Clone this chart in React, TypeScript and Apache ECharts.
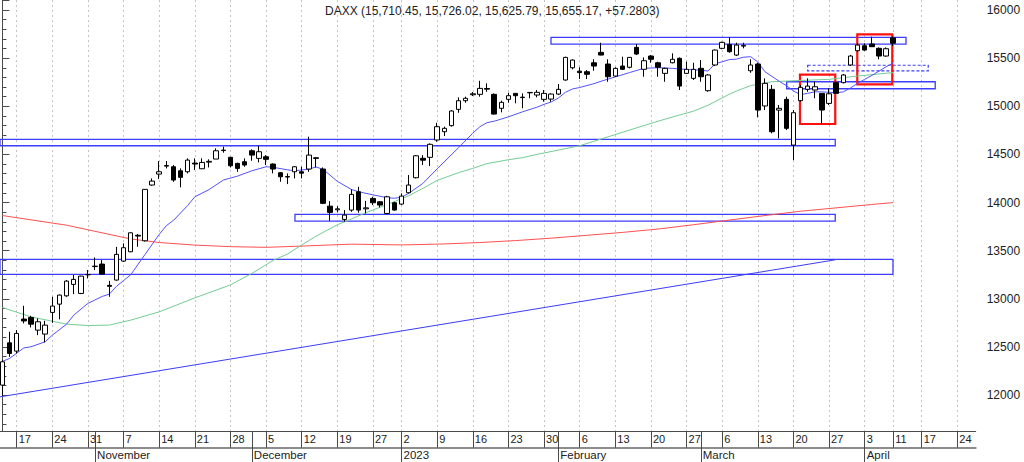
import React, { useEffect, useRef } from 'react';
import * as echarts from 'echarts';

// ---------- data ----------
const tradingDays: string[] = [
  '2022-10-13', '2022-10-14',
  '2022-10-17', '2022-10-18', '2022-10-19', '2022-10-20', '2022-10-21',
  '2022-10-24', '2022-10-25', '2022-10-26', '2022-10-27', '2022-10-28',
  '2022-10-31', '2022-11-01', '2022-11-02', '2022-11-03', '2022-11-04',
  '2022-11-07', '2022-11-08', '2022-11-09', '2022-11-10', '2022-11-11',
  '2022-11-14', '2022-11-15', '2022-11-16', '2022-11-17', '2022-11-18',
  '2022-11-21', '2022-11-22', '2022-11-23', '2022-11-24', '2022-11-25',
  '2022-11-28', '2022-11-29', '2022-11-30', '2022-12-01', '2022-12-02',
  '2022-12-05', '2022-12-06', '2022-12-07', '2022-12-08', '2022-12-09',
  '2022-12-12', '2022-12-13', '2022-12-14', '2022-12-15', '2022-12-16',
  '2022-12-19', '2022-12-20', '2022-12-21', '2022-12-22', '2022-12-23',
  '2022-12-27', '2022-12-28', '2022-12-29', '2022-12-30',
  '2023-01-02', '2023-01-03', '2023-01-04', '2023-01-05', '2023-01-06',
  '2023-01-09', '2023-01-10', '2023-01-11', '2023-01-12', '2023-01-13',
  '2023-01-16', '2023-01-17', '2023-01-18', '2023-01-19', '2023-01-20',
  '2023-01-23', '2023-01-24', '2023-01-25', '2023-01-26', '2023-01-27',
  '2023-01-30', '2023-01-31', '2023-02-01', '2023-02-02', '2023-02-03',
  '2023-02-06', '2023-02-07', '2023-02-08', '2023-02-09', '2023-02-10',
  '2023-02-13', '2023-02-14', '2023-02-15', '2023-02-16', '2023-02-17',
  '2023-02-20', '2023-02-21', '2023-02-22', '2023-02-23', '2023-02-24',
  '2023-02-27', '2023-02-28', '2023-03-01', '2023-03-02', '2023-03-03',
  '2023-03-06', '2023-03-07', '2023-03-08', '2023-03-09', '2023-03-10',
  '2023-03-13', '2023-03-14', '2023-03-15', '2023-03-16', '2023-03-17',
  '2023-03-20', '2023-03-21', '2023-03-22', '2023-03-23', '2023-03-24',
  '2023-03-27', '2023-03-28', '2023-03-29', '2023-03-30', '2023-03-31',
  '2023-04-03', '2023-04-04', '2023-04-05', '2023-04-06',
  '2023-04-11',
];

const futureDays: string[] = [
  '2023-04-12', '2023-04-13', '2023-04-14',
  '2023-04-17', '2023-04-18', '2023-04-19', '2023-04-20', '2023-04-21',
  '2023-04-24', '2023-04-25', '2023-04-26',
];

const opens: number[] = [
  12104, 12543,
  12457, 12790, 12807, 12675, 12634,
  12859, 12945, 13031, 13150, 13056,
  13250, 13335, 13361, 13140, 13195,
  13392, 13489, 13660, 13603, 14182,
  14296, 14378, 14372, 14330, 14320,
  14410, 14351, 14420, 14452, 14540,
  14470, 14407, 14424, 14538, 14459,
  14476, 14400, 14310, 14265, 14320,
  14320, 14348, 14465, 14348, 13963,
  13925, 13825, 13922, 14112, 13935,
  14043, 14008, 13887, 13998,
  13984, 14102, 14258, 14460, 14470,
  14650, 14736, 14799, 14968, 15058,
  15120, 15124, 15185, 15124, 14979,
  15072, 15134, 15095, 15140, 15117,
  15072, 15075, 15127, 15273, 15400,
  15365, 15359, 15452, 15560, 15439,
  15314, 15418, 15405, 15612, 15384,
  15522, 15452, 15342, 15452, 15498,
  15342, 15290, 15394, 15162, 15429,
  15602, 15643, 15532, 15625, 15369,
  15439, 15003, 15176, 14960, 15072,
  14597, 15058, 15176, 15169, 15134,
  15030, 15245, 15245, 15429, 15577,
  15629, 15647, 15602, 15522,
  15710.45,
];

const highs: number[] = [
  12363, 12658,
  12675, 12928, 12824, 12797, 12772,
  13021, 13045, 13195, 13247, 13240,
  13300, 13430, 13402, 13187, 13540,
  13576, 13690, 13673, 14140, 14251,
  14431, 14431, 14390, 14355, 14459,
  14459, 14459, 14449, 14563, 14580,
  14473, 14414, 14459, 14553, 14590,
  14493, 14407, 14315, 14303, 14379,
  14372, 14684, 14470, 14365, 14015,
  13963, 13922, 14137, 14164, 14018,
  14060, 14015, 14070, 14008,
  14095, 14286, 14493, 14493, 14615,
  14829, 14788, 14961, 15093, 15100,
  15148, 15265, 15238, 15134, 15058,
  15141, 15136, 15134, 15146, 15169,
  15169, 15134, 15231, 15515, 15488,
  15405, 15377, 15488, 15660, 15488,
  15405, 15515, 15510, 15647, 15508,
  15532, 15463, 15400, 15550, 15508,
  15463, 15452, 15480, 15335, 15590,
  15671, 15716, 15660, 15660, 15488,
  15452, 15290, 15221, 15013, 15100,
  14961, 15221, 15290, 15255, 15134,
  15186, 15255, 15335, 15532, 15654,
  15654, 15723, 15612, 15612,
  15726.02,
];

const lows: number[] = [
  11990, 12398,
  12433, 12745, 12703, 12623, 12547,
  12751, 12787, 13021, 13049, 13050,
  13212, 13299, 13250, 13021, 13190,
  13382, 13485, 13541, 13595, 14174,
  14244, 14355, 14216, 14158, 14303,
  14338, 14348, 14365, 14452, 14518,
  14365, 14320, 14372, 14434, 14417,
  14390, 14303, 14216, 14192, 14251,
  14251, 14320, 14365, 13984, 13811,
  13898, 13800, 13904, 13894, 13887,
  13974, 13950, 13880, 13915,
  13974, 14095, 14250, 14390, 14379,
  14632, 14691, 14788, 14933, 15037,
  15107, 15100, 15151, 14915, 14937,
  15037, 15031, 14979, 15083, 15093,
  15048, 15048, 15117, 15266, 15384,
  15283, 15283, 15369, 15530, 15255,
  15307, 15377, 15394, 15532, 15307,
  15452, 15307, 15255, 15446, 15169,
  15335, 15273, 15255, 15151, 15418,
  15592, 15556, 15522, 15602, 15348,
  14885, 14961, 14719, 14667, 14753,
  14441, 15048, 15151, 15083, 14816,
  15013, 15127, 15238, 15418, 15567,
  15577, 15619, 15488, 15515,
  15625.79,
];

const closes: number[] = [
  12346, 12433,
  12641, 12770, 12737, 12762, 12727,
  12925, 13039, 13184, 13202, 13236,
  13253, 13340, 13257, 13130, 13462,
  13531, 13686, 13652, 14137, 14223,
  14320, 14385, 14234, 14262, 14441,
  14400, 14417, 14428, 14538, 14545,
  14382, 14355, 14390, 14493, 14528,
  14449, 14348, 14268, 14270, 14372,
  14305, 14493, 14459, 13992, 13898,
  13935, 13870, 14085, 13922, 13945,
  13998, 13974, 14060, 13922,
  14067, 14182, 14486, 14440, 14605,
  14788, 14771, 14951, 15058, 15083,
  15130, 15186, 15178, 14919, 15041,
  15110, 15110, 15090, 15144, 15145,
  15134, 15127, 15176, 15508, 15480,
  15350, 15332, 15418, 15532, 15307,
  15394, 15384, 15508, 15543, 15473,
  15488, 15405, 15394, 15488, 15210,
  15384, 15384, 15307, 15325, 15584,
  15664, 15567, 15636, 15633, 15429,
  14961, 15238, 14736, 14979, 14771,
  14933, 15197, 15210, 15203, 14961,
  15130, 15134, 15325, 15522, 15636,
  15584, 15619, 15522, 15597.89,
  15655.17,
];

// moving averages: [date, value]
const maFast: [string, number][] = [
  ['2022-10-13', 12350], ['2022-10-14', 12381], ['2022-10-18', 12490], ['2022-10-19', 12502],
  ['2022-10-21', 12554], ['2022-10-24', 12623], ['2022-10-26', 12737], ['2022-10-27', 12830],
  ['2022-10-31', 12953], ['2022-11-02', 13025], ['2022-11-03', 13049], ['2022-11-04', 13130],
  ['2022-11-07', 13190], ['2022-11-08', 13250], ['2022-11-10', 13460], ['2022-11-14', 13670],
  ['2022-11-15', 13760], ['2022-11-16', 13815], ['2022-11-18', 13970], ['2022-11-21', 14060],
  ['2022-11-23', 14135], ['2022-11-25', 14234], ['2022-11-29', 14275], ['2022-12-01', 14330],
  ['2022-12-05', 14372], ['2022-12-06', 14366], ['2022-12-08', 14340], ['2022-12-09', 14330],
  ['2022-12-13', 14347], ['2022-12-14', 14370], ['2022-12-15', 14345], ['2022-12-19', 14220],
  ['2022-12-21', 14135], ['2022-12-22', 14112], ['2022-12-27', 14080], ['2022-12-29', 14050],
  ['2022-12-30', 14045], ['2023-01-02', 14055], ['2023-01-03', 14095], ['2023-01-05', 14199],
  ['2023-01-09', 14350], ['2023-01-12', 14570], ['2023-01-16', 14720], ['2023-01-17', 14788],
  ['2023-01-18', 14830], ['2023-01-19', 14845], ['2023-01-23', 14890], ['2023-01-25', 14943],
  ['2023-01-27', 14990], ['2023-01-30', 15020], ['2023-01-31', 15045], ['2023-02-01', 15085],
  ['2023-02-02', 15145], ['2023-02-03', 15180], ['2023-02-06', 15195], ['2023-02-08', 15235],
  ['2023-02-09', 15260], ['2023-02-13', 15305], ['2023-02-15', 15350], ['2023-02-17', 15394],
  ['2023-02-21', 15401], ['2023-02-23', 15394], ['2023-02-27', 15383], ['2023-03-01', 15375],
  ['2023-03-02', 15366], ['2023-03-03', 15440], ['2023-03-07', 15485], ['2023-03-08', 15490],
  ['2023-03-09', 15510], ['2023-03-10', 15515], ['2023-03-13', 15460], ['2023-03-14', 15360],
  ['2023-03-15', 15310], ['2023-03-16', 15260], ['2023-03-17', 15215], ['2023-03-20', 15160],
  ['2023-03-21', 15120], ['2023-03-22', 15135], ['2023-03-23', 15150], ['2023-03-24', 15150],
  ['2023-03-27', 15145], ['2023-03-28', 15140], ['2023-03-29', 15150], ['2023-03-30', 15190],
  ['2023-03-31', 15238], ['2023-04-03', 15280], ['2023-04-04', 15320], ['2023-04-05', 15365],
  ['2023-04-06', 15410], ['2023-04-11', 15450],
];

const maMid: [string, number][] = [
  ['2022-10-13', 12910], ['2022-10-19', 12813], ['2022-10-26', 12737], ['2022-10-31', 12723],
  ['2022-11-03', 12727], ['2022-11-08', 12779], ['2022-11-14', 12865], ['2022-11-21', 13010],
  ['2022-11-28', 13145], ['2022-12-01', 13264], ['2022-12-06', 13400], ['2022-12-08', 13465],
  ['2022-12-12', 13560], ['2022-12-14', 13650], ['2022-12-19', 13770], ['2022-12-21', 13830],
  ['2022-12-23', 13895], ['2022-12-29', 13980], ['2023-01-03', 14070], ['2023-01-05', 14147],
  ['2023-01-09', 14230], ['2023-01-12', 14310], ['2023-01-16', 14355], ['2023-01-18', 14405],
  ['2023-01-23', 14445], ['2023-01-25', 14466], ['2023-01-27', 14500], ['2023-02-01', 14545],
  ['2023-02-06', 14590], ['2023-02-09', 14660], ['2023-02-15', 14753], ['2023-02-21', 14845],
  ['2023-02-24', 14909], ['2023-02-28', 14950], ['2023-03-02', 15010], ['2023-03-07', 15125],
  ['2023-03-08', 15158], ['2023-03-10', 15215], ['2023-03-15', 15255], ['2023-03-20', 15265],
  ['2023-03-27', 15280], ['2023-03-31', 15314], ['2023-04-11', 15350],
];

const maSlow: [string, number][] = [
  ['2022-10-13', 13865], ['2022-10-26', 13765], ['2022-11-08', 13622], ['2022-11-14', 13585],
  ['2022-11-21', 13558], ['2022-11-28', 13542], ['2022-12-05', 13535], ['2022-12-12', 13548],
  ['2022-12-21', 13568], ['2023-01-02', 13560], ['2023-01-10', 13570], ['2023-01-17', 13585],
  ['2023-01-24', 13605], ['2023-01-31', 13630], ['2023-02-07', 13660], ['2023-02-14', 13690],
  ['2023-02-21', 13725], ['2023-02-28', 13770], ['2023-03-07', 13818], ['2023-03-14', 13865],
  ['2023-03-21', 13910], ['2023-03-28', 13945], ['2023-04-04', 13980], ['2023-04-11', 14000],
];

const monthNames = ['January', 'February', 'March', 'April', 'May', 'June', 'July',
  'August', 'September', 'October', 'November', 'December'];

const TITLE = 'DAXX (15,710.45, 15,726.02, 15,625.79, 15,655.17, +57.2803)';

// axis extent (in trading-day index units) and price extent
const X_MIN = -0.344;
const X_MAX = 136.58;
const Y_MIN = 11620;
const Y_MAX = 16104;

// drawn annotations, in axis units (x: trading-day index, y: price)
const trendLine: [number, number][] = [[X_MIN, 11982], [116.83, 13405]];
const zones = [
  { x1: 76.98, x2: 126.8, lo: 15645, hi: 15715 },
  { x1: -1.5, x2: 116.87, lo: 14590, hi: 14657 },
  { x1: 41.05, x2: 116.87, lo: 13808, hi: 13878 },
  { x1: -1.5, x2: 124.97, lo: 13254, hi: 13410 },
  { x1: 110.05, x2: 130.9, lo: 15182, hi: 15255 },
];
const dashedZones = [{ x1: 113.0, x2: 129.92, lo: 15368, hi: 15426 }];
const redBoxes = [
  { x1: 111.92, x2: 116.87, lo: 14816, hi: 15328 },
  { x1: 119.96, x2: 124.87, lo: 15228, hi: 15747 },
];

// ---------- helpers ----------
const allDays = tradingDays.concat(futureDays);
const dayIndex: Record<string, number> = {};
allDays.forEach((d, i) => { dayIndex[d] = i; });
const weekday = (d: string) => new Date(d + 'T00:00:00Z').getUTCDay();
const month = (d: string) => Number(d.slice(5, 7)) - 1;

const weekTicks: number[] = [];
const monthTicks: number[] = [];
for (let i = 1; i < allDays.length; i++) {
  if (weekday(allDays[i]) < weekday(allDays[i - 1])) weekTicks.push(i);
  if (month(allDays[i]) !== month(allDays[i - 1])) monthTicks.push(i);
}

const dayLabel = (v: number) => {
  const d = allDays[Math.round(v)];
  return d ? String(Number(d.slice(8, 10))) : '';
};
const monthLabel = (v: number) => {
  const d = allDays[Math.round(v)];
  if (!d) return '';
  const m = month(d);
  return m === 0 ? d.slice(0, 4) : monthNames[m];
};

const FONT = "'Liberation Sans', Arial, Helvetica, sans-serif";
const AXIS_DARK = '#4a4a4a';

function buildOption() {
  const candleData = tradingDays.map((_, i) => [i, opens[i], closes[i], lows[i], highs[i]]);
  const toPts = (arr: [string, number][]) => arr.map(([d, v]) => [dayIndex[d], v]);

  const rectArea = (z: { x1: number; x2: number; lo: number; hi: number }, style: any) => [
    { coord: [z.x1, z.hi], itemStyle: style },
    { coord: [z.x2, z.lo] },
  ];
  const blueStyle = { color: 'rgba(0,0,0,0)', borderColor: '#3c3cff', borderWidth: 1.3 };
  const dashedStyle = { color: 'rgba(0,0,0,0)', borderColor: '#3c3cff', borderWidth: 1.2, borderType: [3, 2] };
  const redStyle = { color: 'rgba(0,0,0,0)', borderColor: '#ff1010', borderWidth: 2.2 };

  const baseX = { type: 'value', min: X_MIN, max: X_MAX, gridIndex: 0, position: 'bottom' };

  return {
    animation: false,
    backgroundColor: '#ffffff',
    textStyle: { fontFamily: FONT },
    title: {
      text: TITLE,
      left: 320,
      top: 0,
      padding: [5, 5],
      textStyle: { fontSize: 12, fontWeight: 'normal', color: '#222', fontFamily: FONT },
    },
    grid: { left: 0, right: 48.3, top: 0, bottom: 30.3, containLabel: false, outerBoundsMode: 'none' },
    xAxis: [
      {
        ...baseX,
        offset: 0,
        axisLine: { show: true, lineStyle: { color: AXIS_DARK, width: 1 } },
        axisTick: { show: true, customValues: weekTicks, length: 16, lineStyle: { color: AXIS_DARK } },
        axisLabel: {
          show: true, customValues: weekTicks, formatter: dayLabel,
          align: 'left', verticalAlign: 'middle', margin: 7.5, padding: [0, 0, 0, 2],
          fontSize: 11, color: '#222', fontFamily: FONT,
        },
        splitLine: { show: true, lineStyle: { color: '#c4c4c4', type: [2, 3], width: 1 } },
      },
      {
        ...baseX,
        offset: 0,
        axisLine: { show: false },
        axisTick: { show: true, customValues: monthTicks, length: 30.3, lineStyle: { color: AXIS_DARK } },
        axisLabel: {
          show: true, customValues: monthTicks, formatter: monthLabel,
          align: 'left', verticalAlign: 'middle', margin: 23.3, padding: [0, 0, 0, 2],
          fontSize: 11.5, color: '#222', fontFamily: FONT,
        },
        splitLine: { show: false },
      },
      {
        ...baseX,
        offset: 16,
        axisLine: { show: true, lineStyle: { color: '#8c8c8c', width: 2 } },
        axisTick: { show: false },
        axisLabel: { show: false },
        splitLine: { show: false },
      },
    ],
    yAxis: {
      type: 'value',
      position: 'right',
      min: Y_MIN,
      max: Y_MAX,
      splitNumber: 9,
      minInterval: 500,
      maxInterval: 500,
      axisLine: { show: true, lineStyle: { color: AXIS_DARK, width: 1 } },
      axisTick: { show: true, length: 7, lineStyle: { color: AXIS_DARK } },
      minorTick: { show: true, splitNumber: 5, length: 4, lineStyle: { color: AXIS_DARK } },
      axisLabel: {
        fontSize: 12, color: '#222', margin: 11, fontFamily: FONT,
        showMinLabel: false, showMaxLabel: false,
        formatter: (v: number) => String(v),
      },
      splitLine: { show: false },
      minorSplitLine: { show: false },
    },
    series: [
      {
        name: 'MA slow', type: 'line', data: toPts(maSlow), showSymbol: false, symbol: 'none',
        lineStyle: { color: '#ff5050', width: 1 }, silent: true, z: 2,
      },
      {
        name: 'MA mid', type: 'line', data: toPts(maMid), showSymbol: false, symbol: 'none',
        lineStyle: { color: '#74cc94', width: 1 }, silent: true, z: 2,
      },
      {
        name: 'MA fast', type: 'line', data: toPts(maFast), showSymbol: false, symbol: 'none',
        lineStyle: { color: '#5252ff', width: 1 }, silent: true, z: 2,
      },
      {
        name: 'DAXX', type: 'candlestick', data: candleData, barWidth: 5, silent: true, z: 3,
        itemStyle: {
          color: '#ffffff', color0: '#000000',
          borderColor: '#000000', borderColor0: '#000000', borderColorDoji: '#000000',
          borderWidth: 1,
        },
      },
      {
        name: 'Trend', type: 'line', data: trendLine, showSymbol: false, symbol: 'none',
        lineStyle: { color: '#3c3cff', width: 1 }, silent: true, z: 4,
        markArea: {
          silent: true,
          label: { show: false },
          data: [
            ...zones.map((z) => rectArea(z, blueStyle)),
            ...dashedZones.map((z) => rectArea(z, dashedStyle)),
            ...redBoxes.map((z) => rectArea(z, redStyle)),
          ],
        },
      },
    ],
  };
}

export default function App() {
  const ref = useRef<HTMLDivElement>(null);
  useEffect(() => {
    if (!ref.current) return;
    const chart = echarts.init(ref.current, undefined, { renderer: 'svg', width: 1024, height: 462 });
    chart.setOption(buildOption() as any);
    return () => chart.dispose();
  }, []);
  return (
    <div
      ref={ref}
      style={{ position: 'absolute', left: 0, top: 0, width: 1024, height: 462, background: '#fff' }}
    />
  );
}
